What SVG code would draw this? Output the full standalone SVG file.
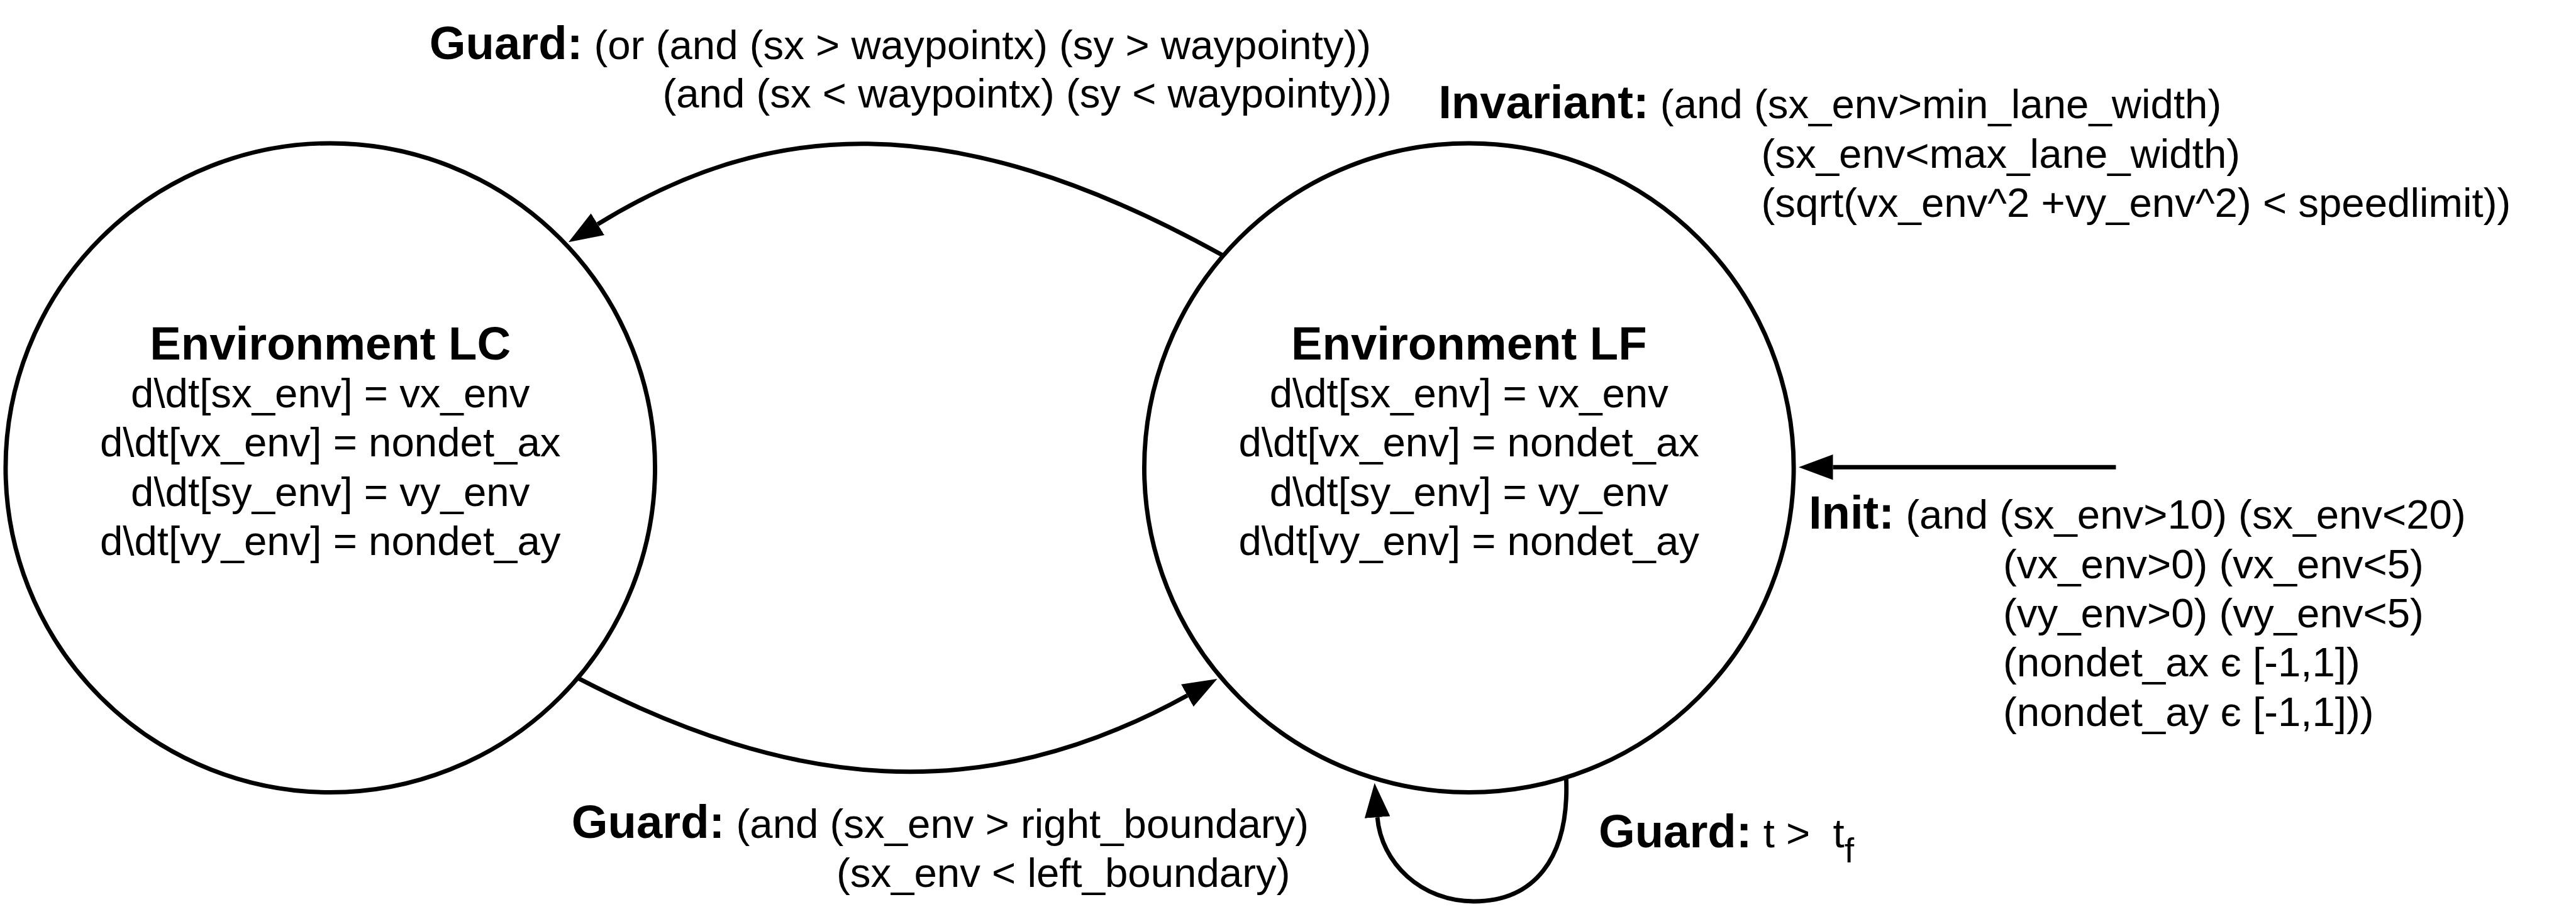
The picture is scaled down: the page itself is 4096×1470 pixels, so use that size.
<svg xmlns="http://www.w3.org/2000/svg" width="4096" height="1470" viewBox="0 0 4096 1470">
<style>
.t{font-family:"Liberation Sans",Arial,Helvetica,sans-serif;font-size:66px;fill:#000}
.b{font-weight:bold;font-size:75px}
.c{text-anchor:middle}
.node{fill:#fff;stroke:#000;stroke-width:7}
.edge{fill:none;stroke:#000;stroke-width:7;marker-end:url(#arrow)}
</style>
<defs>
<marker id="arrow" viewBox="0 -22 56 44" refX="0" refY="0" markerWidth="56" markerHeight="44" markerUnits="userSpaceOnUse" orient="auto">
<path d="M0,-20.5 L55,0 L0,20.5 z" fill="#000"/>
</marker>
</defs>
<rect width="4096" height="1470" fill="#fff"/>
<g transform="scale(0.991)">
<g id="node-lc">
<circle class="node" cx="530" cy="751" r="521"/>
<text class="t b c" x="530" y="577">Environment LC</text>
<text class="t c" x="530" y="654">d\dt[sx_env] = vx_env</text>
<text class="t c" x="530" y="733">d\dt[vx_env] = nondet_ax</text>
<text class="t c" x="530" y="812">d\dt[sy_env] = vy_env</text>
<text class="t c" x="530" y="891">d\dt[vy_env] = nondet_ay</text>
</g>
<g id="node-lf">
<circle class="node" cx="2357" cy="751" r="521"/>
<text class="t b c" x="2357" y="577">Environment LF</text>
<text class="t c" x="2357" y="654">d\dt[sx_env] = vx_env</text>
<text class="t c" x="2357" y="733">d\dt[vx_env] = nondet_ax</text>
<text class="t c" x="2357" y="812">d\dt[sy_env] = vy_env</text>
<text class="t c" x="2357" y="891">d\dt[vy_env] = nondet_ay</text>
<g id="invariant">
<text class="t" x="2308" y="190"><tspan class="b">Invariant:</tspan> (and (sx_env&gt;min_lane_width)</text>
<text class="t" x="2826" y="269">(sx_env&lt;max_lane_width)</text>
<text class="t" x="2826" y="348">(sqrt(vx_env^2 +vy_env^2) &lt; speedlimit))</text>
</g>
</g>
<g id="connectors">
<path id="e-lf-lc" class="edge" d="M1962,410 C1516,162 1224,197 959,360"/>
<path id="e-lc-lf" class="edge" d="M928,1089 C1267,1265 1571,1301 1905,1116.5"/>
<path id="e-lf-lf" class="edge" d="M2513,1250 C2518,1380 2460,1447 2365,1447 C2280,1447 2216,1385 2210,1312"/>
<path id="e-init" class="edge" d="M3395,750 L2941,750"/>
</g>
<g id="edge-labels">
<text class="t" x="689" y="95"><tspan class="b">Guard:</tspan> (or (and (sx &gt; waypointx) (sy &gt; waypointy))</text>
<text class="t" x="1063" y="173">(and (sx &lt; waypointx) (sy &lt; waypointy)))</text>
<text class="t" x="917" y="1345"><tspan class="b">Guard:</tspan> (and (sx_env &gt; right_boundary)</text>
<text class="t" x="1342" y="1424">(sx_env &lt; left_boundary)</text>
<text class="t" x="2565" y="1360"><tspan class="b">Guard:</tspan> t &gt;<tspan x="2941">t</tspan><tspan dy="24" font-size="56">f</tspan></text>
<text class="t" x="2902" y="849"><tspan class="b">Init:</tspan> (and (sx_env&gt;10) (sx_env&lt;20)</text>
<text class="t" x="3214" y="928">(vx_env&gt;0) (vx_env&lt;5)</text>
<text class="t" x="3214" y="1007">(vy_env&gt;0) (vy_env&lt;5)</text>
<text class="t" x="3214" y="1086">(nondet_ax є [-1,1])</text>
<text class="t" x="3214" y="1165">(nondet_ay є [-1,1]))</text>
</g>
</g>
</svg>
